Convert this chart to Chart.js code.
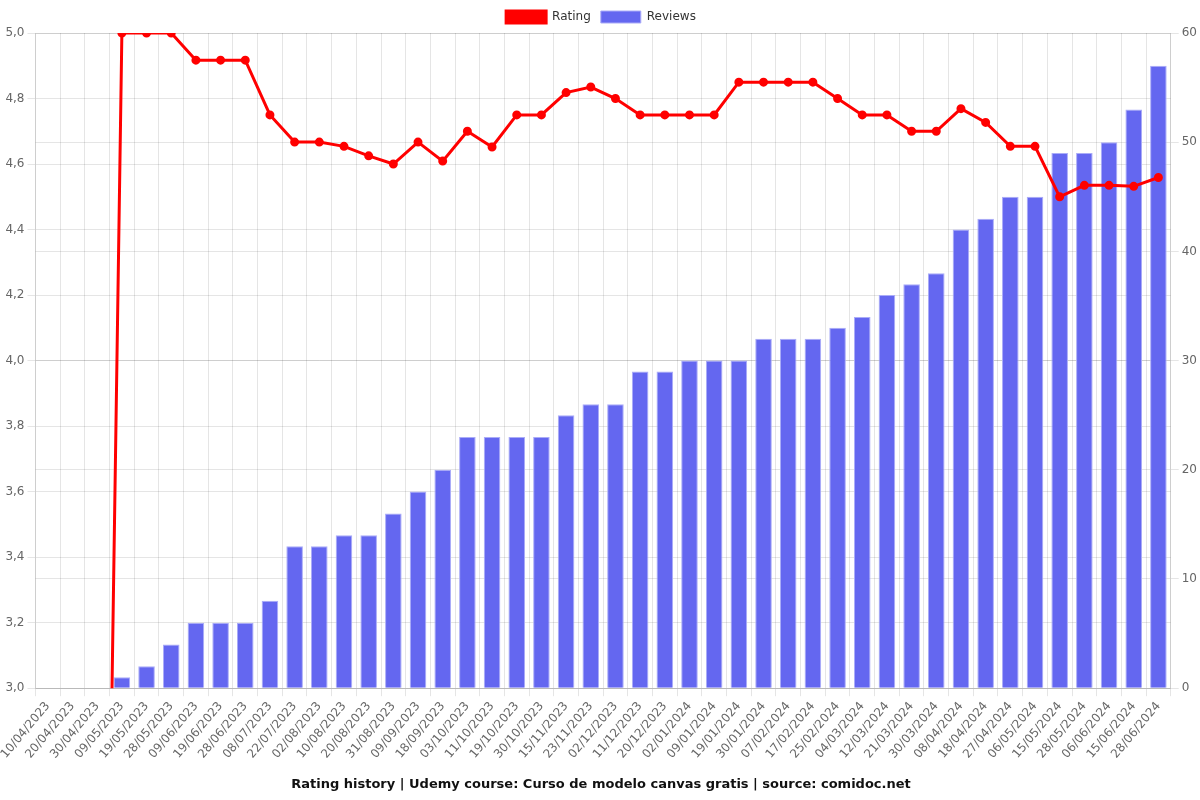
<!DOCTYPE html>
<html>
<head>
<meta charset="utf-8">
<title>Rating history</title>
<script src="https://cdn.jsdelivr.net/npm/chart.js@4/dist/chart.umd.min.js"></script>
<style>
  html, body { margin: 0; padding: 0; background: #fff; }
  #wrap { width: 1200px; height: 800px; }
</style>
</head>
<body>
<div id="wrap"><canvas id="ratingChart"></canvas></div>
<script>
/* Datos */
var fechas = [
  '10/04/2023', '20/04/2023', '30/04/2023', '09/05/2023', '19/05/2023', '28/05/2023',
  '09/06/2023', '19/06/2023', '28/06/2023', '08/07/2023', '22/07/2023', '02/08/2023',
  '10/08/2023', '20/08/2023', '31/08/2023', '09/09/2023', '18/09/2023', '03/10/2023',
  '11/10/2023', '19/10/2023', '30/10/2023', '15/11/2023', '23/11/2023', '02/12/2023',
  '11/12/2023', '20/12/2023', '02/01/2024', '09/01/2024', '19/01/2024', '30/01/2024',
  '07/02/2024', '17/02/2024', '25/02/2024', '04/03/2024', '12/03/2024', '21/03/2024',
  '30/03/2024', '08/04/2024', '18/04/2024', '27/04/2024', '06/05/2024', '15/05/2024',
  '28/05/2024', '06/06/2024', '15/06/2024', '28/06/2024'
];

var rating = [
  0, 0, 0, 5.0, 5.0, 5.0,
  4.917, 4.917, 4.917, 4.75, 4.667, 4.667,
  4.654, 4.625, 4.6, 4.667, 4.609, 4.70,
  4.652, 4.75, 4.75, 4.818, 4.835, 4.80,
  4.75, 4.75, 4.75, 4.75, 4.85, 4.85,
  4.85, 4.85, 4.80, 4.75, 4.75, 4.70,
  4.70, 4.769, 4.727, 4.654, 4.654, 4.50,
  4.535, 4.535, 4.532, 4.559
];

var reviews = [
  0, 0, 0, 1, 2, 4,
  6, 6, 6, 8, 13, 13,
  14, 14, 16, 18, 20, 23,
  23, 23, 23, 25, 26, 26,
  29, 29, 30, 30, 30, 32,
  32, 32, 33, 34, 36, 37,
  38, 42, 43, 45, 45, 49,
  49, 50, 53, 57
];

var ratingTicks  = { min: 3, max: 5, step: 0.2 };
var reviewsTicks = { min: 0, max: 60, step: 10 };

Chart.defaults.font.family = "'DejaVu Sans', sans-serif";
Chart.defaults.font.size = 12;
Chart.defaults.color = '#666';

/* ── Gráfica combinada ── */
var ctx = document.getElementById('ratingChart').getContext('2d');
var chartInst = new Chart(ctx, {
  type: 'bar',
  data: {
    labels: fechas,
    datasets: [{
      type: 'line',
      label: 'Rating',
      data: rating,
      yAxisID: 'y',
      order: 0,
      borderColor: '#ff0000',
      backgroundColor: '#ff0000',
      borderWidth: 3,
      pointRadius: 3,
      pointBackgroundColor: '#ff0000',
      pointBorderColor: '#ff0000',
      tension: 0
    }, {
      type: 'bar',
      label: 'Reviews',
      data: reviews,
      yAxisID: 'y1',
      order: 1,
      backgroundColor: '#6467f0',
      borderColor: 'rgba(170,172,248,1)',
      borderWidth: 1,
      categoryPercentage: 0.8,
      barPercentage: 0.84
    }]
  },
  options: {
    responsive: true,
    maintainAspectRatio: false,
    animation: false,
    layout: { padding: { left: 2, right: 0, top: 1, bottom: 4 } },
    plugins: {
      legend: {
        position: 'top',
        labels: { color: '#333', boxWidth: 40, boxHeight: 12, padding: 10, font: { size: 12 } }
      },
      title: {
        display: true,
        position: 'bottom',
        text: 'Rating history | Udemy course: Curso de modelo canvas gratis | source: comidoc.net',
        color: '#111',
        font: { size: 13, weight: 'bold' },
        padding: { top: 12, bottom: 4 }
      },
      tooltip: { enabled: false }
    },
    scales: {
      x: {
        offset: true,
        grid: { color: 'rgba(0,0,0,0.1)', offset: true },
        ticks: { color: '#666', minRotation: 50, maxRotation: 50, autoSkip: false, font: { size: 12 } }
      },
      y: {
        position: 'left',
        min: ratingTicks.min,
        max: ratingTicks.max,
        grid: { color: 'rgba(0,0,0,0.1)' },
        ticks: {
          stepSize: ratingTicks.step,
          color: '#666',
          callback: function(val) { return val.toFixed(1).replace('.', ','); }
        }
      },
      y1: {
        position: 'right',
        min: reviewsTicks.min,
        max: reviewsTicks.max,
        grid: { color: 'rgba(0,0,0,0.1)' },
        ticks: { stepSize: reviewsTicks.step, color: '#666' }
      }
    }
  }
});
</script>
</body>
</html>
